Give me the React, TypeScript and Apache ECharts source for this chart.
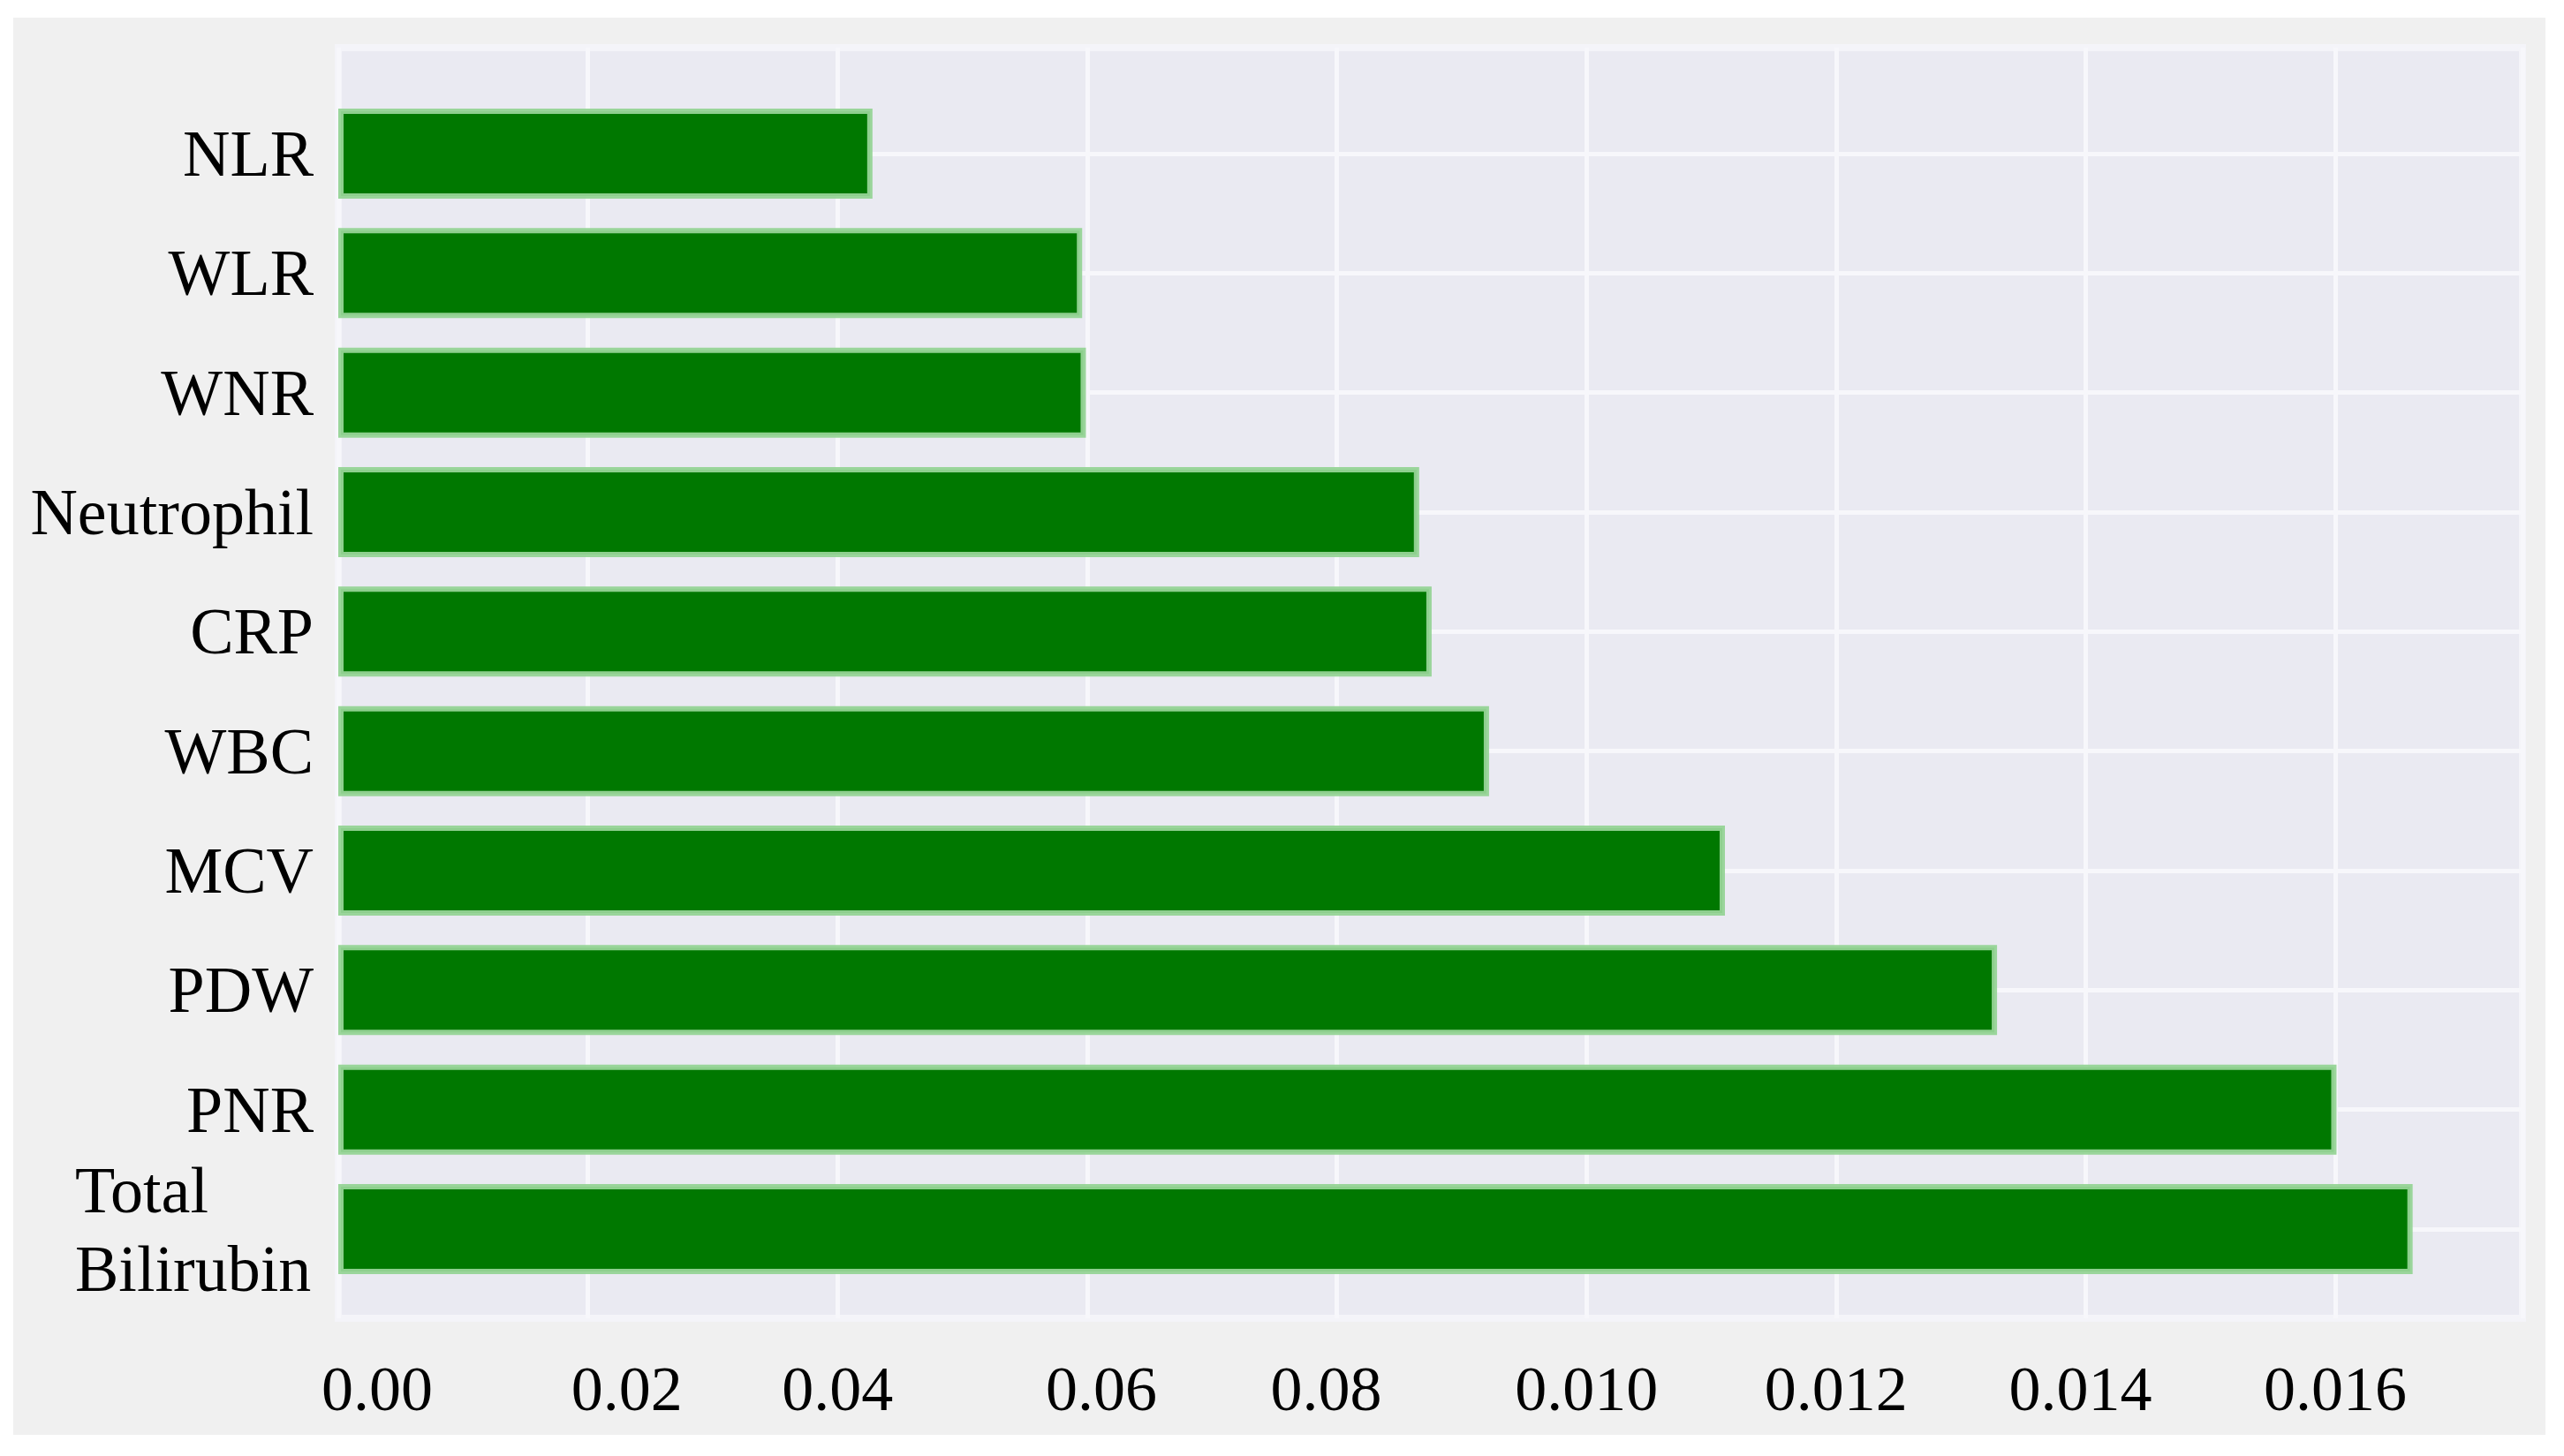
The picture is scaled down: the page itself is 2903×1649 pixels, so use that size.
import React, { useEffect, useRef } from "react";
import * as echarts from "echarts";

const categories = ["NLR", "WLR", "WNR", "Neutrophil", "CRP", "WBC", "MCV", "PDW", "PNR", "Total Bilirubin"];
const values = [0.00428, 0.00596, 0.00599, 0.00866, 0.00876, 0.00922, 0.01111, 0.01329, 0.01601, 0.01662];
const tickLabels = ["0.00", "0.02", "0.04", "0.06", "0.08", "0.010", "0.012", "0.014", "0.016"];
const tickStep = 0.002;
const axisMax = 0.0175;

const FONT = "'Liberation Serif', 'Times New Roman', serif";

// small horizontal nudges of individual tick labels, as in the reference
const labelShift = [44, 44, 0, 16, -12, 0, 0, -6, 0];

export default function App() {
  const ref = useRef<HTMLDivElement>(null);
  useEffect(() => {
    document.body.style.margin = "0";
    const chart = echarts.init(ref.current!, null, { renderer: "svg" });
    const gridLine = { color: "#f7f7fb", width: 5 };
    const rich: Record<string, any> = {};
    labelShift.forEach((s, i) => {
      rich["t" + i] = {
        fontFamily: FONT, fontSize: 72, color: "#000",
        padding: s >= 0 ? [0, 0, 0, 2 * s] : [0, -2 * s, 0, 0],
      };
    });
    chart.setOption({
      animation: false,
      backgroundColor: "#f0f0f0",
      grid: [
        { left: 368, top: 34, width: 2473, height: 1439, show: true, backgroundColor: "#eaeaf2", borderColor: "#f4f4f9", borderWidth: 8 },
        { left: 368, top: 154, width: 2473, height: 1218 },
      ],
      xAxis: [
        {
          type: "value", gridIndex: 0, min: 0, max: axisMax, interval: tickStep,
          axisLine: { show: false }, axisTick: { show: false },
          splitLine: { show: true, lineStyle: gridLine },
          axisLabel: {
            formatter: (v: number) => {
              const i = Math.round(v / tickStep);
              return tickLabels[i] !== undefined ? `{t${i}|${tickLabels[i]}}` : "";
            },
            rich,
            fontFamily: FONT, fontSize: 72, color: "#000", margin: 44, showMaxLabel: false,
          },
        },
        { type: "value", gridIndex: 1, min: 0, max: axisMax, show: false },
      ],
      yAxis: [
        { type: "value", gridIndex: 0, show: false, splitLine: { show: false } },
        {
          type: "category", gridIndex: 1, data: categories, inverse: true, boundaryGap: false,
          axisLine: { show: false }, axisTick: { show: false },
          splitLine: { show: true, lineStyle: gridLine },
          axisLabel: {
            fontFamily: FONT, fontSize: 74, color: "#000", margin: 28,
            formatter: (v: string) => (v === "Total Bilirubin" ? "{tb|Total}\n{tb|Bilirubin}" : v),
            rich: { tb: { width: 270, align: "left", fontFamily: FONT, fontSize: 74, color: "#000", lineHeight: 89 } },
          },
        },
      ],
      series: [
        {
          type: "bar", xAxisIndex: 1, yAxisIndex: 1, data: values, barWidth: 102,
          itemStyle: {
            color: "#007800", borderColor: "rgba(150,212,150,0.95)", borderWidth: 6,
          },
        },
      ],
    });
    return () => chart.dispose();
  }, []);
  return (
    <div style={{ width: 2903, height: 1649, background: "#fff", position: "relative" }}>
      <div ref={ref} style={{ position: "absolute", left: 15, top: 20, width: 2867, height: 1605 }} />
    </div>
  );
}
